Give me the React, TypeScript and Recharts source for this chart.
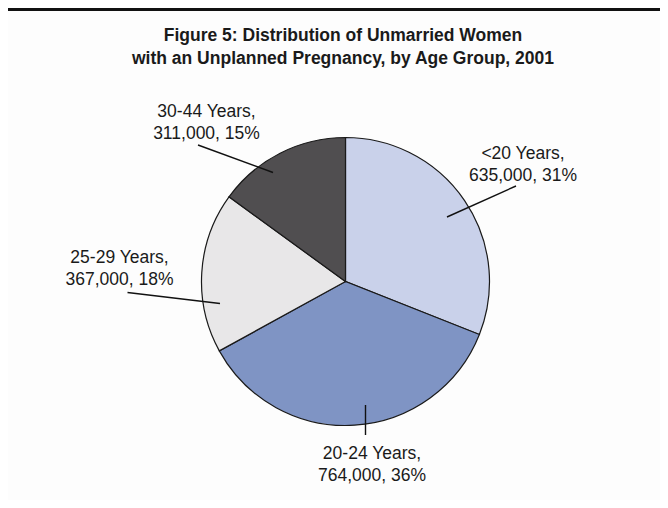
import { PieChart, Pie, Cell } from "recharts";

const AGE_GROUPS = ["<20 Years", "20-24 Years", "25-29 Years", "30-44 Years"];
const WOMEN_COUNTS = [635000, 764000, 367000, 311000];
const SHARES = [31, 36, 18, 15];

const COLORS = ["#c9d1ea", "#7f94c4", "#e8e7e8", "#504e50"];

// leader line (x1, y1, x2, y2) and text anchor (x, first baseline), relative to pie centre
const LABEL_OFFSETS = [
  { line: [101.5, -64.5, 170.5, -95.5], text: [177.5, -123] },
  { line: [20, 123.5, 20, 153.5], text: [26.5, 177] },
  { line: [-218, 11, -125.5, 22], text: [-226, -18.5] },
  { line: [-147.5, -136.5, -72.5, -109], text: [-139, -164.5] },
];

const data = AGE_GROUPS.map((group, i) => ({
  name: group,
  count: WOMEN_COUNTS[i],
  value: SHARES[i],
}));

const FONT = "'Liberation Sans', Arial, Helvetica, sans-serif";

function renderLabel(props: any) {
  const { cx, cy, index } = props;
  const off = LABEL_OFFSETS[index];
  const d = data[index];
  const [x1, y1, x2, y2] = off.line;
  const [tx, ty] = off.text;
  return (
    <g key={`lbl-${index}`}>
      <line
        x1={cx + x1}
        y1={cy + y1}
        x2={cx + x2}
        y2={cy + y2}
        stroke="#111"
        strokeWidth={1.4}
      />
      <text
        x={cx + tx}
        y={cy + ty}
        textAnchor="middle"
        fontFamily={FONT}
        fontSize={17.5}
        fill="#1a1a1a"
      >
        <tspan x={cx + tx} y={cy + ty}>{`${d.name},`}</tspan>
        <tspan x={cx + tx} y={cy + ty + 22}>
          {`${d.count.toLocaleString("en-US")}, ${d.value}%`}
        </tspan>
      </text>
    </g>
  );
}

export default function App() {
  return (
    <div
      style={{
        position: "relative",
        margin: -8,
        width: 668,
        height: 508,
        overflow: "hidden",
        background: "#fdfdfd",
        fontFamily: FONT,
      }}
    >
      <div
        style={{
          position: "absolute",
          left: 5,
          top: 8,
          width: 700,
          height: 600,
          borderTop: "3px solid #111",
          borderLeft: "3px solid #111",
          boxSizing: "border-box",
        }}
      />
      <div
        style={{
          position: "absolute",
          left: 0,
          top: 24,
          width: 686,
          textAlign: "center",
          fontWeight: "bold",
          fontSize: 17.5,
          lineHeight: "22.5px",
          color: "#1a1a1a",
        }}
      >
        Figure 5: Distribution of Unmarried Women
        <br />
        with an Unplanned Pregnancy, by Age Group, 2001
      </div>
      <div style={{ position: "absolute", left: 0, top: 0 }}>
        <PieChart width={668} height={508}>
          <Pie
            data={data}
            dataKey="value"
            nameKey="name"
            cx={340.5}
            cy={276.5}
            outerRadius={144}
            startAngle={90}
            endAngle={-270}
            stroke="#1a1a1a"
            strokeWidth={1.2}
            label={renderLabel}
            labelLine={false}
            isAnimationActive={false}
          >
            {data.map((_, i) => (
              <Cell key={i} fill={COLORS[i]} />
            ))}
          </Pie>
        </PieChart>
      </div>
    </div>
  );
}
